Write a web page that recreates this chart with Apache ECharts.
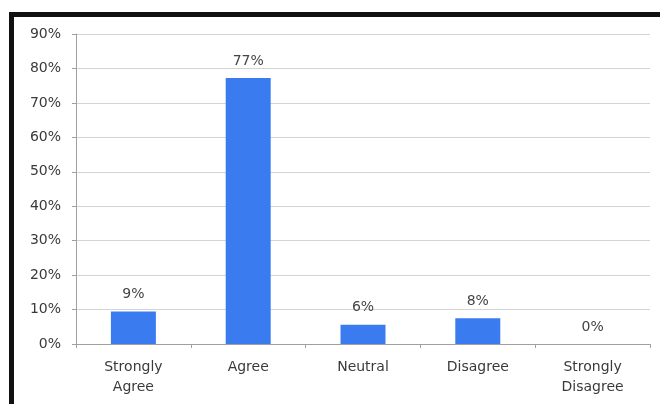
<!DOCTYPE html>
<html><head><meta charset="utf-8">
<script src="https://cdn.jsdelivr.net/npm/echarts@6/dist/echarts.min.js"></script>
<style>
html,body{margin:0;padding:0;background:#fff;}
#wrap{position:relative;width:660px;height:404px;overflow:hidden;background:#fff;}
#frame{position:absolute;left:9px;top:12px;width:700px;height:500px;border-top:5px solid #111;border-left:5px solid #111;box-sizing:border-box;}
#c{position:absolute;left:0;top:0;width:660px;height:404px;}
</style></head>
<body><div id="wrap"><div id="frame"></div><div id="c"></div></div>
<script>
var categories = ["Strongly\nAgree", "Agree", "Neutral", "Disagree", "Strongly\nDisagree"];
var values = [9.4, 77.2, 5.6, 7.5, 0];
var yTicks = [0, 10, 20, 30, 40, 50, 60, 70, 80, 90];

var FONT = 'DejaVu Sans, Verdana, sans-serif';
var chart = echarts.init(document.getElementById('c'), null, {renderer:'canvas'});
chart.setOption({
  animation:false,
  grid:{left:76, right:10, top:34, bottom:60},
  xAxis:{
    type:'category', data:categories,
    axisLine:{lineStyle:{color:'#a0a0a0', width:1}},
    axisTick:{show:true, length:4, lineStyle:{color:'#a0a0a0'}},
    axisLabel:{color:'#3a3a3a', fontFamily:FONT, fontSize:14, margin:13, lineHeight:20}
  },
  yAxis:{
    type:'value', min:0, max:90, interval:10,
    axisLine:{show:true, lineStyle:{color:'#a0a0a0'}},
    axisTick:{show:true, length:4, lineStyle:{color:'#a0a0a0'}},
    splitLine:{lineStyle:{color:'#d4d4d4', width:1}},
    axisLabel:{color:'#3a3a3a', fontFamily:FONT, fontSize:14, margin:15,
      formatter:function(v){return v+'%';}}
  },
  series:[{
    type:'bar', data:values, barWidth:45,
    itemStyle:{color:'#3a7cf0'},
    label:{show:true, position:'top', distance:10, color:'#444', fontFamily:FONT, fontSize:14,
      formatter:function(p){return Math.round(p.value)+'%';}}
  }]
});
</script></body></html>
